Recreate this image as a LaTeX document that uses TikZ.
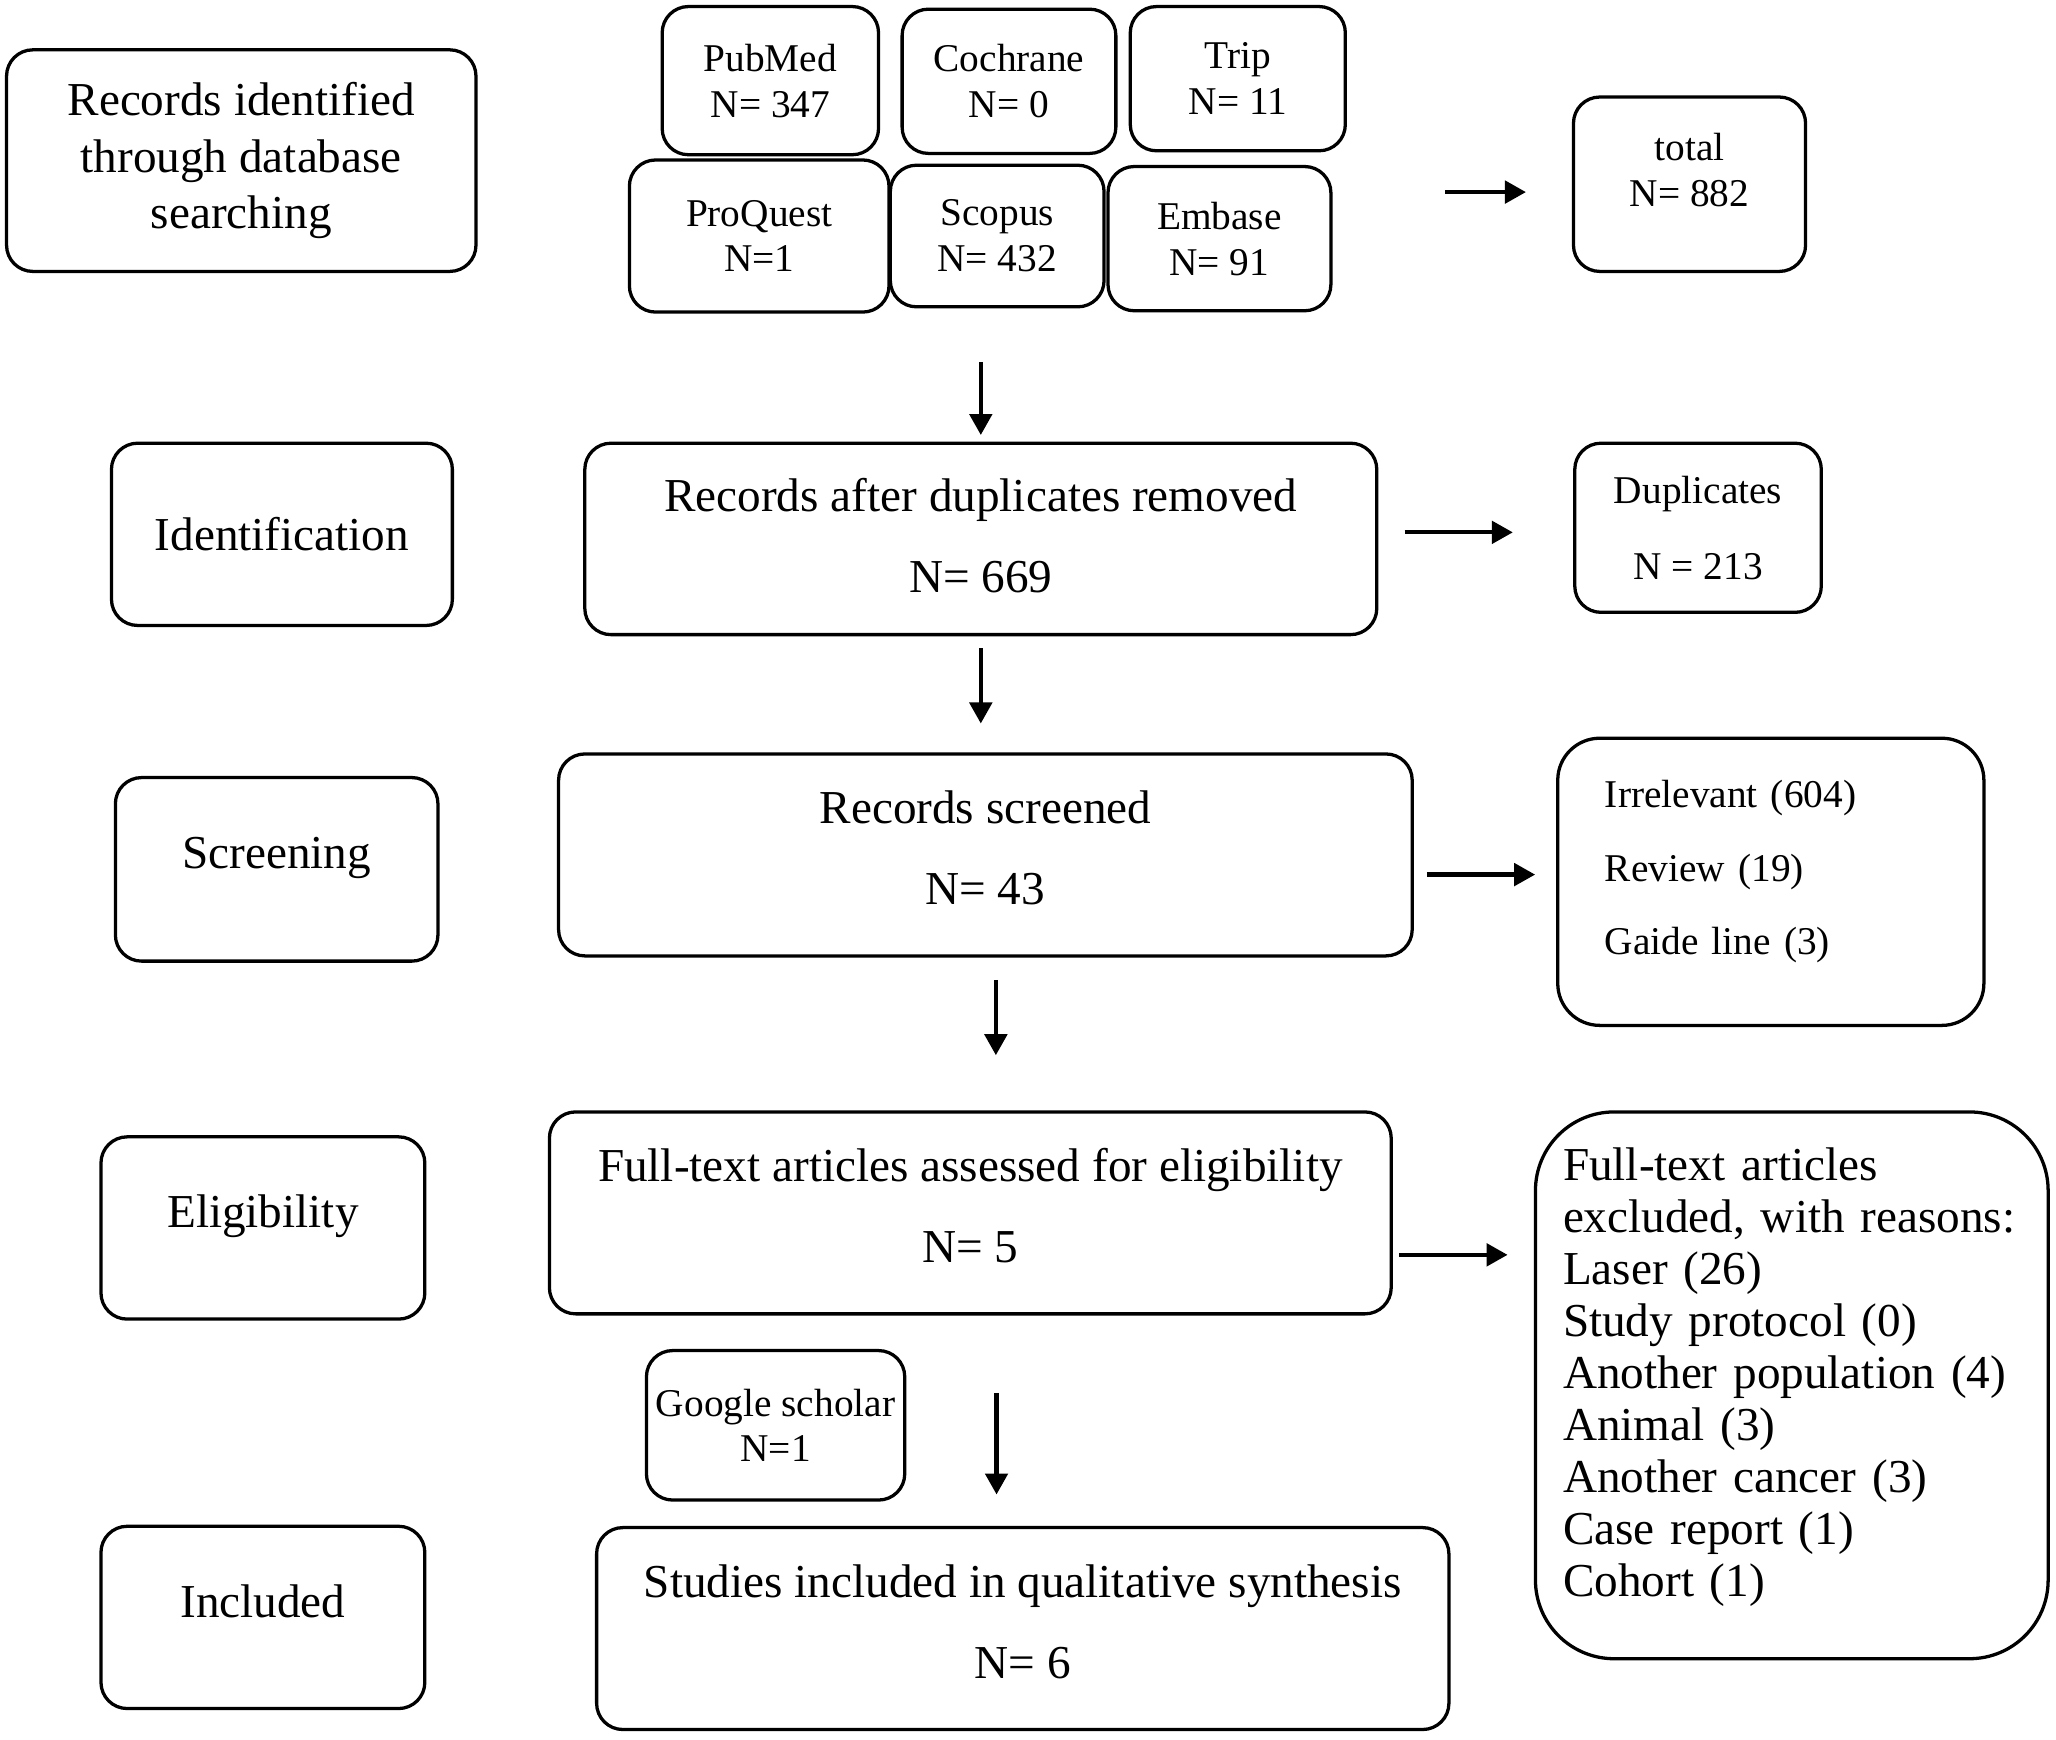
\documentclass[tikz,border=0pt]{standalone}
\usepackage{fontspec}
\setmainfont{Liberation Serif}
\usetikzlibrary{arrows.meta}

\begin{document}
\begin{tikzpicture}[x=0.5pt,y=-0.5pt]

\tikzset{
  box/.style = {draw, rounded corners=10pt, line width=1.25pt, align=center, inner sep=0pt},
  wh/.style 2 args = {minimum width=#1*0.5pt, minimum height=#2*0.5pt},
  big/.style = {font=\fontsize{18}{21.5}\selectfont},
  stage/.style = {big, text depth=12.5pt},
  bigtwo/.style = {font=\fontsize{18}{31}\selectfont, text depth=5.5pt},
  small/.style = {font=\fontsize{15}{17.5}\selectfont},
  arr/.style = {-{Triangle[length=8pt,width=8.5pt]}, line width=1.6pt}
}

\useasboundingbox (0,0) rectangle (1568,1327);

\node[box, big, wh={358}{169}] (search) at (184,122.5) {Records identified\\through database\\searching};
\node[box, big, wh={260}{139}] (ident) at (215,407.5) {Identification};
\node[box, stage, wh={246}{140}] (screen) at (211,663) {Screening};
\node[box, stage, wh={247}{139}] (elig) at (200.5,936.5) {Eligibility};
\node[box, stage, wh={247}{139}] (incl) at (200.5,1233.5) {Included};

\node[box, small, wh={165}{113}] (pubmed) at (587.5,61.5) {PubMed\\N= 347};
\node[box, small, wh={163}{110}] (cochrane) at (769.5,62) {Cochrane\\N= 0};
\node[box, small, wh={164}{110}] (trip) at (944,60) {Trip\\N= 11};
\node[box, small, wh={198}{116}] (proquest) at (579,180) {ProQuest\\N=1};
\node[box, small, wh={163}{108}] (scopus) at (760.5,180) {Scopus\\N= 432};
\node[box, small, wh={170}{110}] (embase) at (930,182) {Embase\\N= 91};
\node[box, small, text depth=11pt, wh={177}{133}] (total) at (1288.5,140.5) {total\\N= 882};

\node[box, bigtwo, text depth=2.5pt, wh={604}{146}] (dedup) at (748,411) {Records after duplicates removed\\N= 669};
\node[box, small, font=\fontsize{15}{29}\selectfont, wh={188}{129}] (dupl) at (1295,402.5) {Duplicates\\N = 213};

\node[box, bigtwo, wh={651}{154}] (screened) at (751.5,652) {Records screened\\N= 43};
\node[box, font=\fontsize{15}{28}\selectfont, text depth=67pt, wh={325}{219}, rounded corners=16pt, text width=126.5pt, align=left] (irrel) at (1350.5,672.5)
  {Irrelevant (604)\\Review (19)\\Gaide line (3)};

\node[box, bigtwo, wh={642}{154}] (fulltext) at (740,925) {Full-text articles assessed for eligibility\\N= 5};
\node[box, font=\fontsize{18}{19.8}\selectfont, text depth=168.5pt, wh={391}{417}, rounded corners=30pt, text width=174.5pt, align=left] (excl) at (1366.5,1056.5)
  {Full-text articles\\excluded, with reasons:\\Laser (26)\\Study protocol (0)\\Another population (4)\\Animal (3)\\Another cancer (3)\\Case report (1)\\Cohort (1)};

\node[box, small, wh={197}{114}] (google) at (591.5,1087) {Google scholar\\N=1};
\node[box, bigtwo, wh={650}{154}] (studies) at (780,1242) {Studies included in qualitative synthesis\\N= 6};

\draw[arr, shorten <=20.5pt, shorten >=2.5pt] (scopus.south -| dedup.north) -- (dedup.north);
\draw[arr, shorten <=43pt, shorten >=17.5pt] ([yshift=-3pt]embase.east |- total.west) -- ([yshift=-3pt]total.west);
\draw[arr, shorten <=10pt, shorten >=23pt] ([yshift=2.5pt]dedup.east) -- ([yshift=2.5pt]dedup.east -| dupl.west);
\draw[arr, shorten <=4.5pt, shorten >=11pt] (dedup.south) -- (dedup.south |- screened.north);
\draw[arr, shorten <=5pt, shorten >=8pt] ([yshift=-7.5pt]screened.east) -- ([yshift=-7.5pt]screened.east -| irrel.west);
\draw[arr, shorten <=8.5pt, shorten >=21pt] ([xshift=4pt]screened.south) -- ([xshift=4pt]screened.south |- fulltext.north);
\draw[arr, shorten <=2.5pt, shorten >=10pt] ([yshift=-16pt]fulltext.east) -- ([yshift=-16pt]fulltext.east -| excl.west);
\draw[arr, shorten <=29.5pt, shorten >=12pt] ([xshift=10pt]fulltext.south) -- ([xshift=10pt]fulltext.south |- studies.north);

\end{tikzpicture}
\end{document}
